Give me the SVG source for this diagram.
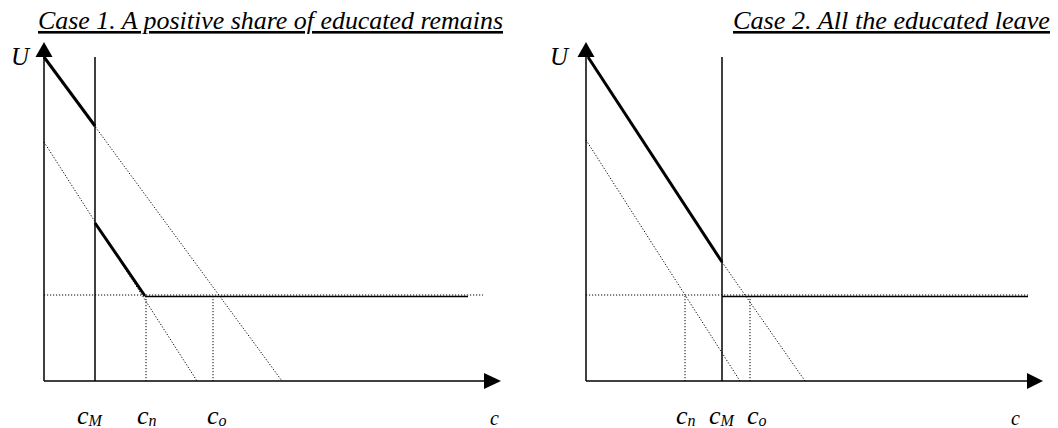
<svg xmlns="http://www.w3.org/2000/svg" width="1058" height="428" viewBox="0 0 1058 428">
<style>
.ax{stroke:#000;stroke-width:1.5;fill:none}
.thick{stroke:#000;stroke-width:3;fill:none}
.dot{stroke:#000;stroke-width:1;stroke-dasharray:1.2 1.8;fill:none}
.solid{stroke:#000;stroke-width:1.5;fill:none}
.head{fill:#000}
text{font-family:'Liberation Serif','Times New Roman',Times,serif;font-style:italic;fill:#000}
.title{font-size:26px;text-decoration:underline}
.lab{font-size:26px}
.sub{font-size:16px}
.axl{font-size:25px}
.axc{font-size:20px}
</style>
<g id="panel1">
<text class="title" x="38" y="29" textLength="465" lengthAdjust="spacingAndGlyphs">Case 1. A positive share of educated remains</text>
<g id="axes1">
<line class="ax" x1="44" y1="55" x2="44" y2="381"/>
<polygon class="head" points="44,42 35.5,57 52.5,57"/>
<line class="ax" x1="44" y1="381" x2="486" y2="381"/>
<polygon class="head" points="501,381 484,373 484,389"/>
<text class="axl" x="11" y="65">U</text>
<text class="axc" x="490" y="425">c</text>
</g>
<g id="connectors1">
<line class="ax" x1="95" y1="57" x2="95" y2="381"/>
<line class="dot" x1="44" y1="57" x2="282" y2="381"/>
<line class="dot" x1="44" y1="142" x2="197" y2="381"/>
<line class="dot" x1="44" y1="295" x2="483" y2="295"/>
<line class="dot" x1="146" y1="296" x2="146" y2="381"/>
<line class="dot" x1="213" y1="296" x2="213" y2="381"/>
<line class="thick" x1="44" y1="57" x2="95" y2="126"/>
<line class="thick" x1="95" y1="223" x2="145" y2="296"/>
<line class="solid" x1="145" y1="296.5" x2="468" y2="296.5"/>
</g>
<g id="labels1">
<text class="lab" x="77" y="424">c<tspan class="sub" dy="2">M</tspan></text>
<text class="lab" x="137" y="424">c<tspan class="sub" dy="2">n</tspan></text>
<text class="lab" x="207" y="424">c<tspan class="sub" dy="2">o</tspan></text>
</g>
</g>
<g id="panel2">
<text class="title" x="733" y="29" textLength="317" lengthAdjust="spacingAndGlyphs">Case 2. All the educated leave</text>
<g id="axes2">
<line class="ax" x1="586" y1="55" x2="586" y2="381"/>
<polygon class="head" points="586,42 577.5,57 594.5,57"/>
<line class="ax" x1="586" y1="381" x2="1029" y2="381"/>
<polygon class="head" points="1043,381 1027,373 1027,389"/>
<text class="axl" x="550" y="65">U</text>
<text class="axc" x="1011" y="425">c</text>
</g>
<g id="connectors2">
<line class="ax" x1="722" y1="57" x2="722" y2="381"/>
<line class="dot" x1="722" y1="262" x2="805" y2="381"/>
<line class="dot" x1="586" y1="140" x2="740" y2="381"/>
<line class="dot" x1="586" y1="295" x2="1028" y2="295"/>
<line class="dot" x1="685" y1="296" x2="685" y2="381"/>
<line class="dot" x1="750" y1="296" x2="750" y2="381"/>
<line class="thick" x1="588" y1="57" x2="722" y2="262"/>
<line class="solid" x1="722" y1="296.5" x2="1028" y2="296.5"/>
</g>
<g id="labels2">
<text class="lab" x="676" y="424">c<tspan class="sub" dy="2">n</tspan></text>
<text class="lab" x="709" y="424">c<tspan class="sub" dy="2">M</tspan></text>
<text class="lab" x="747" y="424">c<tspan class="sub" dy="2">o</tspan></text>
</g>
</g>
</svg>
